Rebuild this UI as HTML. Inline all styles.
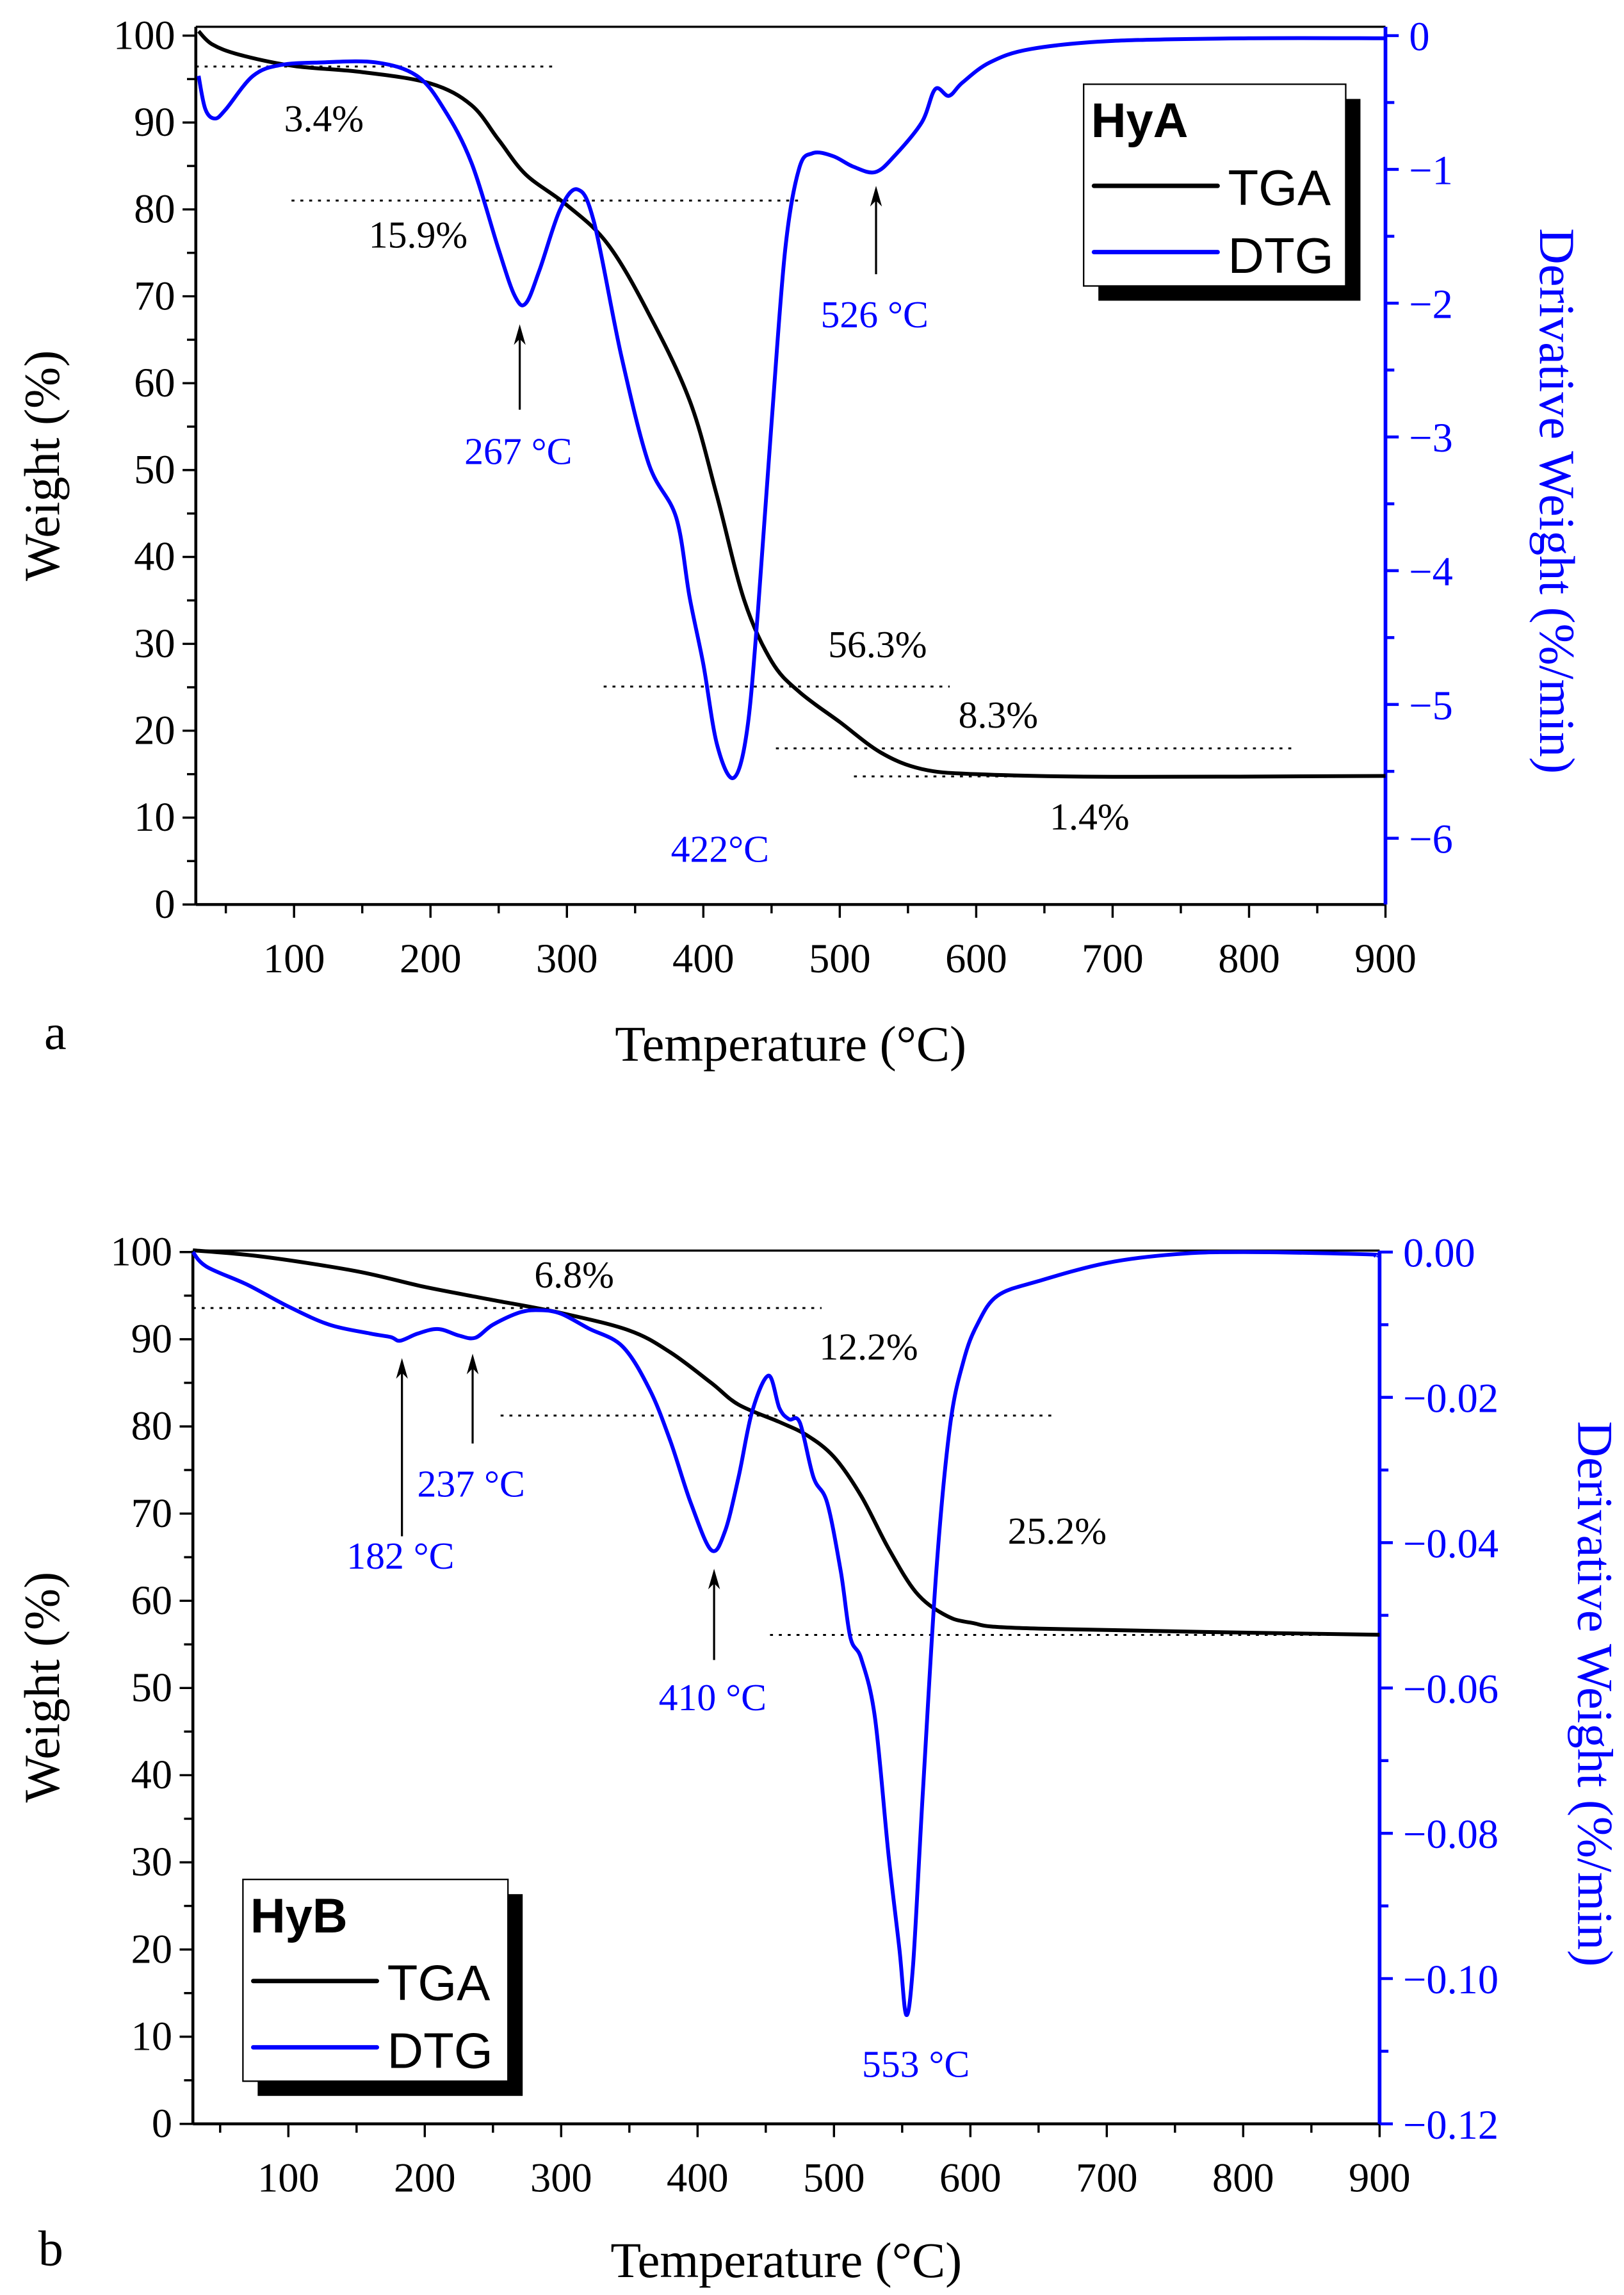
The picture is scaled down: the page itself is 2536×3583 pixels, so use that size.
<!DOCTYPE html>
<html><head><meta charset="utf-8"><style>
html,body{margin:0;padding:0;background:#fff;}
svg{display:block;}
text{font-family:"Liberation Serif",serif;}
.sans{font-family:"Liberation Sans",sans-serif;}
</style></head><body>
<svg id="svg" width="2536" height="3583" viewBox="0 0 1103 1558" xmlns="http://www.w3.org/2000/svg"></svg>
<script>
// Panel a data
const aTemp = [30,40,60,100,150,200,230,250,270,300,330,360,390,410,430,450,470,500,530,560,600,700,900];
const aTGA  = [100.5,99,97.8,96.5,95.8,94.5,92,88,84,80.5,76,68,58,47,35,28,24.5,21,17.5,15.6,15,14.7,14.8];
const aDtgTemp = [30,35,42,50,70,90,120,160,190,210,230,250,262,270,280,295,308,320,340,360,380,390,400,410,422,432,440,450,460,470,480,495,510,526,540,560,570,580,590,610,640,700,800,900];
const aDTG = [-0.3,-0.55,-0.62,-0.55,-0.3,-0.22,-0.2,-0.2,-0.3,-0.55,-0.95,-1.6,-1.95,-2.0,-1.75,-1.3,-1.15,-1.4,-2.4,-3.2,-3.6,-4.2,-4.7,-5.3,-5.55,-5.2,-4.3,-2.9,-1.6,-1.0,-0.88,-0.9,-0.98,-1.02,-0.9,-0.65,-0.4,-0.45,-0.35,-0.2,-0.1,-0.04,-0.02,-0.02];
// Panel b data
const bTemp = [30,80,150,200,250,300,350,380,410,430,460,480,500,520,540,560,580,600,650,900];
const bTGA  = [100.2,99.5,97.8,96,94.5,93,91,88.5,85,82.5,80.5,79,76.5,72,66,61,58.5,57.5,56.8,56.1];
const bDtgTemp = [30,40,70,100,130,160,175,182,195,210,225,237,250,270,285,300,320,345,365,380,395,410,420,430,440,452,460,467,475,485,495,505,512,520,530,540,548,553,558,565,575,585,595,605,620,650,700,750,800,890,897];
const bDTG = [0,-0.002,-0.0045,-0.0075,-0.0100,-0.0112,-0.0117,-0.0122,-0.0112,-0.0106,-0.0115,-0.0118,-0.0100,-0.0083,-0.0080,-0.0085,-0.0105,-0.0130,-0.0190,-0.0260,-0.0345,-0.0410,-0.0385,-0.0310,-0.0220,-0.0170,-0.0215,-0.0230,-0.0235,-0.0310,-0.0345,-0.0440,-0.0530,-0.0560,-0.0640,-0.0830,-0.0960,-0.1050,-0.0980,-0.0750,-0.0440,-0.0240,-0.0150,-0.0100,-0.0060,-0.0040,-0.0015,-0.0003,0.0000,-0.0003,-0.0005];
const xTicks = [100,200,300,400,500,600,700,800,900];
const yLeftTicks = [0,10,20,30,40,50,60,70,80,90,100];
const aRightTicks = [0,-1,-2,-3,-4,-5,-6];
const bRightTicks = [0,-0.02,-0.04,-0.06,-0.08,-0.10,-0.12];

const NS="http://www.w3.org/2000/svg";
const svg=document.getElementById('svg');
function el(tag,attrs,parent,txt){const e=document.createElementNS(NS,tag);for(const k in attrs)e.setAttribute(k,attrs[k]);if(txt!==undefined)e.textContent=txt;(parent||svg).appendChild(e);return e;}
function minus(v,dec){const s=Math.abs(v).toFixed(dec);return (v<0?'\u2212':'')+s;}
function smooth(pts){
  let d='M'+pts[0][0].toFixed(1)+','+pts[0][1].toFixed(1);
  for(let i=0;i<pts.length-1;i++){
    const p0=pts[Math.max(0,i-1)],p1=pts[i],p2=pts[i+1],p3=pts[Math.min(pts.length-1,i+2)];
    const c1x=p1[0]+(p2[0]-p0[0])/6,c1y=p1[1]+(p2[1]-p0[1])/6;
    const c2x=p2[0]-(p3[0]-p1[0])/6,c2y=p2[1]-(p3[1]-p1[1])/6;
    d+=` C${c1x.toFixed(1)},${c1y.toFixed(1)} ${c2x.toFixed(1)},${c2y.toFixed(1)} ${p2[0].toFixed(1)},${p2[1].toFixed(1)}`;
  }
  return d;
}

function panel(cfg){
  const g=el('g',{});
  
  
  const X=t=>cfg.L+(t-cfg.xmin)*(cfg.R-cfg.L)/(900-cfg.xmin);
  const Y=w=>cfg.y0+(cfg.y100-cfg.y0)*w/100;
  const Yr=d=>cfg.r0+(cfg.rEnd-cfg.r0)*(d/cfg.rEndVal);
  cfg.dots.forEach(d=>{const l=el('line',{x1:d[0],x2:d[1],y1:d[2],y2:d[2],stroke:'#000','stroke-width':1.3,'stroke-dasharray':'2,4'},g);
    });
  let a=el('line',{x1:cfg.L,x2:cfg.R,y1:cfg.T,y2:cfg.T,stroke:'#000','stroke-width':1.5},g);
  
  a=el('line',{x1:cfg.L,x2:cfg.R,y1:cfg.B,y2:cfg.B,stroke:'#000','stroke-width':2},g);
  
  a=el('line',{x1:cfg.L,x2:cfg.L,y1:cfg.T,y2:cfg.B,stroke:'#000','stroke-width':2},g);
  
  a=el('line',{x1:cfg.R,x2:cfg.R,y1:cfg.T,y2:cfg.B,stroke:'#0000ff','stroke-width':2.5},g);
  
  for(let t=50;t<=900;t+=50){const maj=t%100===0;el('line',{x1:X(t),x2:X(t),y1:cfg.B,y2:cfg.B+(maj?9:6),stroke:'#000','stroke-width':1.5},g);}
  xTicks.forEach(t=>{const tx=el('text',{x:X(t),y:cfg.B+46,'font-size':28,'text-anchor':'middle'},g,String(t));
    });
  for(let w=0;w<=100;w+=5){el('line',{x1:cfg.L,x2:cfg.L-(w%10===0?9:6),y1:Y(w),y2:Y(w),stroke:'#000','stroke-width':1.5},g);}
  yLeftTicks.forEach(w=>{const tx=el('text',{x:cfg.L-14,y:Y(w)+9,'font-size':28,'text-anchor':'end'},g,String(w));
    });
  const rt=cfg.rTicks;
  for(let i=0;i<rt.length;i++){
    el('line',{x1:cfg.R,x2:cfg.R+9,y1:Yr(rt[i]),y2:Yr(rt[i]),stroke:'#0000ff','stroke-width':2},g);
    if(i<rt.length-1){const m=(rt[i]+rt[i+1])/2;el('line',{x1:cfg.R,x2:cfg.R+6,y1:Yr(m),y2:Yr(m),stroke:'#0000ff','stroke-width':2},g);}
    const tx=el('text',{x:cfg.R+16,y:Yr(rt[i])+10,'font-size':28,fill:'#0000ff'},g,minus(rt[i],cfg.rDec));
    
  }
  let s=el('path',{d:smooth(cfg.tT.map((t,i)=>[X(t),Y(cfg.tW[i])])),fill:'none',stroke:'#000','stroke-width':2.6,'stroke-linejoin':'round'},g);
  
  s=el('path',{d:smooth(cfg.dT.map((t,i)=>[X(t),Yr(cfg.dV[i])])),fill:'none',stroke:'#0000ff','stroke-width':2.6,'stroke-linejoin':'round'},g);
  
  cfg.labels.forEach(l=>{const tx=el('text',{x:l[1],y:l[2],'font-size':26,'text-anchor':'middle',fill:l[3]},g,l[0]);
    });
  cfg.arrows.forEach(ar=>{const x=ar[0],y1=ar[1],y2=ar[2];
    const l=el('line',{x1:x,x2:x,y1:y1,y2:y2+8,stroke:'#000','stroke-width':1.4},g);
    
    el('polygon',{points:`${x},${y2} ${x-4},${y2+14} ${x},${y2+10} ${x+4},${y2+14}`,fill:'#000'},g);});
  let t=el('text',{x:0,y:0,'font-size':34,'text-anchor':'middle',transform:`translate(${cfg.ytx},${(cfg.T+cfg.B)/2}) rotate(-90)`},g,'Weight (%)');
  
  t=el('text',{x:0,y:0,'font-size':34,'text-anchor':'middle',fill:'#0000ff',transform:`translate(${cfg.rtx},${cfg.rty}) rotate(90)`},g,'Derivative Weight (%/min)');
  
  t=el('text',{x:(cfg.L+cfg.R)/2,y:cfg.B+cfg.xtOff,'font-size':34,'text-anchor':'middle'},g,'Temperature (°C)');
  
  t=el('text',{x:cfg.letter[1],y:cfg.letter[2],'font-size':34},g,cfg.letter[0]);
  
  const lg=el('g',{},g);
  
  const [lx,ly,lw,lh]=cfg.leg;
  el('rect',{x:lx+10,y:ly+10,width:lw,height:lh,fill:'#000'},lg);
  el('rect',{x:lx,y:ly,width:lw,height:lh,fill:'#fff',stroke:'#000','stroke-width':1},lg);
  el('text',{x:lx+5,y:ly+36,'font-size':33,'font-weight':'bold',class:'sans'},lg,cfg.legTitle);
  el('line',{x1:lx+7,x2:lx+91,y1:ly+69,y2:ly+69,stroke:'#000','stroke-width':3,'stroke-linecap':'round'},lg);
  el('text',{x:lx+98,y:ly+82,'font-size':34,class:'sans'},lg,'TGA');
  el('line',{x1:lx+7,x2:lx+91,y1:ly+114,y2:ly+114,stroke:'#0000ff','stroke-width':3,'stroke-linecap':'round'},lg);
  el('text',{x:lx+98,y:ly+128,'font-size':34,class:'sans'},lg,'DTG');
}

panel({name:'panel-a-hya',L:133,R:941,T:18,B:614,xmin:28,y0:614,y100:24,r0:24,rEnd:569,rEndVal:-6,
  rTicks:aRightTicks,rDec:0,tT:aTemp,tW:aTGA,dT:aDtgTemp,dV:aDTG,xtOff:106,
  dots:[[133,378,45],[198,545,136],[410,645,466],[527,877,508],[580,700,527]],
  labels:[['3.4%',220,89,'#000'],['15.9%',284,168,'#000'],['56.3%',596,446,'#000'],['8.3%',678,494,'#000'],['1.4%',740,563,'#000'],
          ['267 °C',352,315,'#0000ff'],['422°C',489,585,'#0000ff'],['526 °C',594,222,'#0000ff']],
  arrows:[[353,278,220],[595,186,126]],
  ytx:40,rtx:1046,rty:340,letter:['a',30,712],leg:[736,57,178,137],legTitle:'HyA'});

panel({name:'panel-b-hyb',L:131,R:937,T:849,B:1442,xmin:30,y0:1442,y100:850,r0:850,rEnd:1442,rEndVal:-0.12,
  rTicks:bRightTicks,rDec:2,tT:bTemp,tW:bTGA,dT:bDtgTemp,dV:bDTG,xtOff:104,
  dots:[[131,558,888],[340,717,961],[523,937,1110]],
  labels:[['6.8%',390,874,'#000'],['12.2%',590,923,'#000'],['25.2%',718,1048,'#000'],
          ['237 °C',320,1016,'#0000ff'],['182 °C',272,1065,'#0000ff'],['410 °C',484,1161,'#0000ff'],['553 °C',622,1410,'#0000ff']],
  arrows:[[273,1043,922],[321,980,919],[485,1127,1065]],
  ytx:40,rtx:1072,rty:1150,letter:['b',26,1538],leg:[165,1276,180,137],legTitle:'HyB'});
</script>
</body></html>
